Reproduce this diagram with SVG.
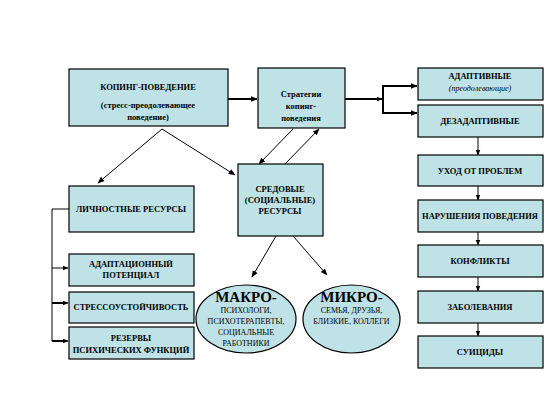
<svg xmlns="http://www.w3.org/2000/svg" width="560" height="409" viewBox="0 0 560 409">
<defs>
<style>
.box{fill:#bee2e5;stroke:#000;stroke-width:1.2}
.t{font-family:"Liberation Serif","Times New Roman",serif;font-weight:bold;font-size:8.5px;text-anchor:middle;fill:#000}
.n{font-family:"Liberation Serif","Times New Roman",serif;font-size:8px;text-anchor:middle;fill:#000}
.big{font-family:"Liberation Serif","Times New Roman",serif;font-size:15px;font-weight:bold;text-anchor:middle;fill:#000}
.c{stroke:#000;stroke-width:1;fill:none}
.ct{stroke:#000;stroke-width:2;fill:none}
</style>
<marker id="ah" viewBox="0 0 10 10" refX="9" refY="5" markerWidth="7" markerHeight="7" markerUnits="userSpaceOnUse" orient="auto"><path d="M0,1 L10,5 L0,9 Z" fill="#000"/></marker>
<marker id="ahs" viewBox="0 0 10 10" refX="9" refY="5" markerWidth="6" markerHeight="6" markerUnits="userSpaceOnUse" orient="auto"><path d="M0,1 L10,5 L0,9 Z" fill="#000"/></marker>
</defs>
<rect width="560" height="409" fill="#fff"/>
<g id="connectors">
<line class="ct" x1="228" y1="99" x2="257" y2="99" marker-end="url(#ah)"/>
<polyline class="ct" points="345,99 382,99"/>
<line class="c" x1="378" y1="99" x2="382" y2="99" marker-end="url(#ahs)"/>
<polyline class="ct" points="417,86 383,86 383,113 417,113"/>
<line class="c" x1="410" y1="86" x2="417" y2="86" marker-end="url(#ah)"/>
<line class="c" x1="410" y1="113" x2="417" y2="113" marker-end="url(#ah)"/>
<line class="c" x1="478" y1="137" x2="478" y2="155" marker-end="url(#ahs)"/>
<line class="c" x1="478" y1="186" x2="478" y2="200" marker-end="url(#ahs)"/>
<line class="c" x1="478" y1="232" x2="478" y2="245" marker-end="url(#ahs)"/>
<line class="c" x1="478" y1="277" x2="478" y2="291" marker-end="url(#ahs)"/>
<line class="c" x1="478" y1="323" x2="478" y2="336" marker-end="url(#ahs)"/>
<line class="c" x1="162" y1="129" x2="98" y2="183" marker-end="url(#ah)"/>
<line class="c" x1="162" y1="129" x2="235" y2="175" marker-end="url(#ah)"/>
<line class="c" x1="293" y1="129" x2="259" y2="164" marker-end="url(#ah)"/>
<line class="c" x1="285" y1="164" x2="319" y2="129" marker-end="url(#ah)"/>
<line class="c" x1="276" y1="236" x2="252" y2="277" marker-end="url(#ah)"/>
<line class="c" x1="293" y1="236" x2="327" y2="275" marker-end="url(#ah)"/>
<polyline class="c" points="69,209 52,209 52,341"/>
<line class="c" x1="52" y1="268" x2="68" y2="268" marker-end="url(#ahs)"/>
<line class="ct" x1="52" y1="303" x2="64" y2="303"/>
<line class="c" x1="60" y1="303" x2="68" y2="303" marker-end="url(#ahs)"/>
<line class="ct" x1="52" y1="341" x2="64" y2="341"/>
<line class="c" x1="60" y1="341" x2="68" y2="341" marker-end="url(#ahs)"/>
</g>
<g id="coping">
<rect class="box" x="69" y="69" width="159" height="57"/>
<text class="t" x="148" y="90" font-size="9">КОПИНГ-ПОВЕДЕНИЕ</text>
<text class="t" x="148" y="108">(стресс-преодолевающее</text>
<text class="t" x="148" y="120">поведение)</text>
</g>
<g id="strategies">
<rect class="box" x="258" y="68" width="87" height="60"/>
<text class="t" x="301" y="97">Стратегии</text>
<text class="t" x="301" y="109">копинг-</text>
<text class="t" x="301" y="121">поведения</text>
</g>
<g id="adaptive">
<rect class="box" x="418" y="68" width="125" height="32"/>
<text class="t" x="480" y="79">АДАПТИВНЫЕ</text>
<text class="n" x="480" y="91" font-style="italic">(преодолевающие)</text>
</g>
<g id="desadaptive">
<rect class="box" x="418" y="105" width="125" height="32"/>
<text class="t" x="480" y="124">ДЕЗАДАПТИВНЫЕ</text>
</g>
<g id="avoid">
<rect class="box" x="418" y="155" width="125" height="31"/>
<text class="t" x="480" y="174">УХОД ОТ ПРОБЛЕМ</text>
</g>
<g id="behavior">
<rect class="box" x="418" y="200" width="125" height="32"/>
<text class="t" x="480" y="219">НАРУШЕНИЯ ПОВЕДЕНИЯ</text>
</g>
<g id="conflicts">
<rect class="box" x="418" y="245" width="125" height="32"/>
<text class="t" x="480" y="264">КОНФЛИКТЫ</text>
</g>
<g id="diseases">
<rect class="box" x="418" y="291" width="125" height="32"/>
<text class="t" x="480" y="310">ЗАБОЛЕВАНИЯ</text>
</g>
<g id="suicides">
<rect class="box" x="418" y="336" width="125" height="32"/>
<text class="t" x="480" y="355">СУИЦИДЫ</text>
</g>
<g id="personal">
<rect class="box" x="69" y="186" width="125" height="46"/>
<text class="t" x="131" y="212">ЛИЧНОСТНЫЕ РЕСУРСЫ</text>
</g>
<g id="adaptpot">
<rect class="box" x="69" y="254" width="125" height="32"/>
<text class="t" x="131" y="267">АДАПТАЦИОННЫЙ</text>
<text class="t" x="131" y="278">ПОТЕНЦИАЛ</text>
</g>
<g id="stress">
<rect class="box" x="69" y="292" width="125" height="31"/>
<text class="t" x="131" y="310">СТРЕССОУСТОЙЧИВОСТЬ</text>
</g>
<g id="reserves">
<rect class="box" x="69" y="327" width="125" height="32"/>
<text class="t" x="131" y="341">РЕЗЕРВЫ</text>
<text class="t" x="131" y="353">ПСИХИЧЕСКИХ ФУНКЦИЙ</text>
</g>
<g id="environment">
<rect class="box" x="238" y="164" width="85" height="72"/>
<text class="t" x="280" y="192">СРЕДОВЫЕ</text>
<text class="t" x="280" y="203">(СОЦИАЛЬНЫЕ)</text>
<text class="t" x="280" y="214">РЕСУРСЫ</text>
</g>
<g id="macro">
<ellipse class="box" cx="246" cy="319" rx="50" ry="34"/>
<text class="big" x="246" y="302">МАКРО-</text>
<text class="n" x="246" y="313">ПСИХОЛОГИ,</text>
<text class="n" x="246" y="324">ПСИХОТЕРАПЕВТЫ,</text>
<text class="n" x="246" y="335">СОЦИАЛЬНЫЕ</text>
<text class="n" x="246" y="346">РАБОТНИКИ</text>
</g>
<g id="micro">
<ellipse class="box" cx="351.5" cy="319" rx="48.5" ry="34"/>
<text class="big" x="351.5" y="302">МИКРО-</text>
<text class="n" x="351.5" y="313">СЕМЬЯ, ДРУЗЬЯ,</text>
<text class="n" x="351.5" y="324">БЛИЗКИЕ, КОЛЛЕГИ</text>
</g>
</svg>
